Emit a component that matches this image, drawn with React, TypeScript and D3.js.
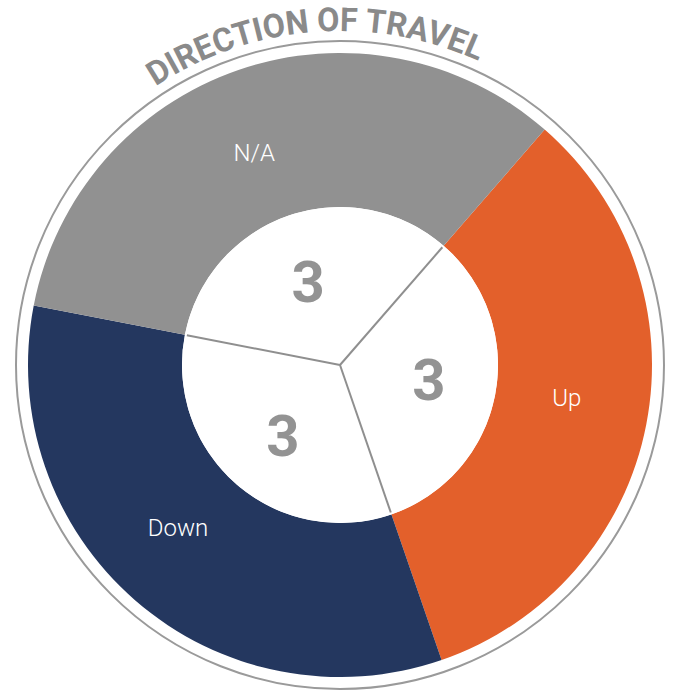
import React from 'react';
import * as d3 from 'd3';

const categories = ['Up', 'Down', 'N/A'];
const counts = [3, 3, 3];
const colors = ['#e3602b', '#24375f', '#919191'];
// small angular nudge (degrees) of each slice's label away from its mid angle
const labelNudge = [-3, 4, -3];
const title = 'DIRECTION OF TRAVEL';

const width = 676;
const height = 691;
const cx = 340;
const cy = 365;
const outerR = 312;
const innerR = 158;
const ringR = 324;
const titleR = 334;

const deg = Math.PI / 180;

const polar = (angle: number, r: number): [number, number] => [
  cx + r * Math.sin(angle),
  cy - r * Math.cos(angle),
];

type Slice = { label: string; value: number; color: string; nudge: number };

const App = () => {
  const data: Slice[] = categories.map((label, i) => ({
    label,
    value: counts[i],
    color: colors[i],
    nudge: labelNudge[i],
  }));

  // first slice (Up) starts a little past the top-right diagonal
  const start = 41 * deg;
  const pie = d3
    .pie<Slice>()
    .value(d => d.value)
    .sort(null)
    .startAngle(start)
    .endAngle(start + 2 * Math.PI);
  const arcs = pie(data);

  const arc = d3.arc<d3.PieArcDatum<Slice>>().innerRadius(innerR).outerRadius(outerR);

  // curved title path, centred slightly left of top
  const tMid = -4.5 * deg;
  const [tx0, ty0] = polar(tMid - 70 * deg, titleR);
  const [tx1, ty1] = polar(tMid + 70 * deg, titleR);
  const titlePath = `M${tx0},${ty0} A${titleR},${titleR} 0 0 1 ${tx1},${ty1}`;

  const labelSize = 24;
  const numSize = 58;

  return (
    <div style={{ position: 'absolute', left: 0, top: 0 }}>
      <svg width={width} height={height} style={{ display: 'block' }}>
        <defs>
          <path id="titleArc" d={titlePath} fill="none" />
        </defs>

        <circle cx={cx} cy={cy} r={ringR} fill="none" stroke="#9a9a9a" strokeWidth={2} />

        <g transform={`translate(${cx},${cy})`}>
          {arcs.map(a => (
            <path key={a.data.label} d={arc(a) || ''} fill={a.data.color} />
          ))}
          <circle r={innerR} fill="#fff" />
          {arcs.map(a => {
            const [x, y] = polar(a.startAngle, innerR - 2);
            return (
              <line
                key={'l' + a.data.label}
                x1={0}
                y1={0}
                x2={x - cx}
                y2={y - cy}
                stroke="#8f8f8f"
                strokeWidth={2}
              />
            );
          })}
        </g>

        {arcs.map(a => {
          const mid = (a.startAngle + a.endAngle) / 2;
          const [lx, ly] = polar(mid + a.data.nudge * deg, 229);
          const [nx, ny] = polar(mid - 1.7 * deg, 90);
          return (
            <g key={'t' + a.data.label}>
              <text
                x={lx}
                y={ly + labelSize * 0.36}
                textAnchor="middle"
                fill="#fff"
                fontFamily="Roboto, sans-serif"
                fontWeight={300}
                fontSize={labelSize}
              >
                {a.data.label}
              </text>
              <text
                x={nx}
                y={ny + numSize * 0.36}
                textAnchor="middle"
                fill="#939393"
                fontFamily="Roboto, sans-serif"
                fontWeight={700}
                fontSize={numSize}
              >
                {a.data.value}
              </text>
            </g>
          );
        })}

        <text fill="#8a8a8a" fontFamily="Roboto, sans-serif" fontWeight={700} fontSize={33}>
          <textPath
            href="#titleArc"
            startOffset="50%"
            textAnchor="middle"
            textLength={338}
            lengthAdjust="spacingAndGlyphs"
          >
            {title}
          </textPath>
        </text>
      </svg>
    </div>
  );
};

export default App;
